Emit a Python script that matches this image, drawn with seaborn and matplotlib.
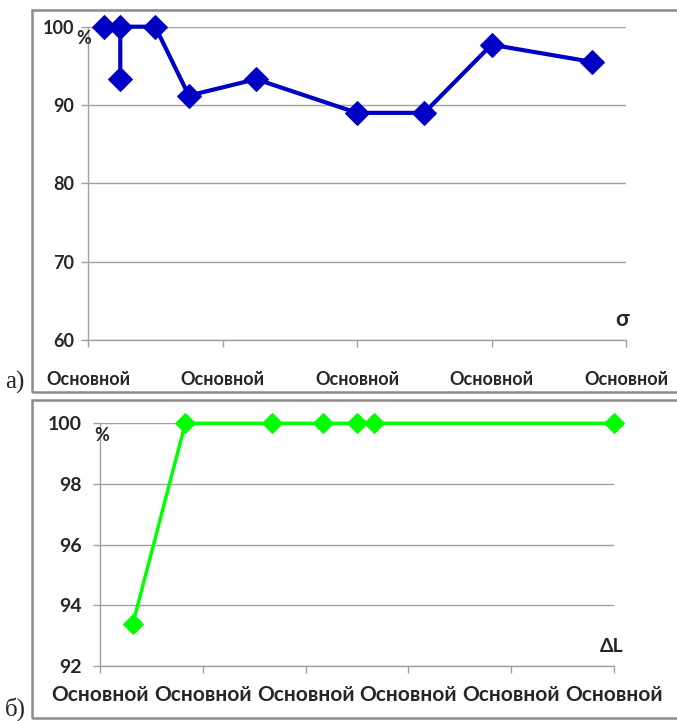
import matplotlib
matplotlib.use("Agg")
import matplotlib.pyplot as plt
import seaborn as sns
from matplotlib.patches import Rectangle

# panel a) - sigma
sigma_x = [0.24, 0.24, 0.12, 0.5, 0.75, 1.25, 2.0, 2.5, 3.0, 3.75]
sigma_y = [93.3, 100, 100, 100, 91.2, 93.3, 89.0, 89.0, 97.7, 95.5]
sigma_ticks = [0, 1, 2, 3, 4]
sigma_yticks = [60, 70, 80, 90, 100]

# panel б) - delta L
dl_x = [0.32, 0.83, 1.67, 2.17, 2.5, 2.67, 5.0]
dl_y = [93.4, 100, 100, 100, 100, 100, 100]
dl_ticks = [0, 1, 2, 3, 4, 5]
dl_yticks = [92, 94, 96, 98, 100]

tick_label = "Основной"

sns.set_style("white")
plt.rcParams["font.family"] = ["Lato", "DejaVu Sans"]

W, H = 677, 721
fig = plt.figure(figsize=(W / 100, H / 100), dpi=100)

def fx(px):
    return px / W

def fy(py):
    return 1 - py / H

# outer frames
for top, bottom in [(10, 392), (400, 718)]:
    fig.patches.append(Rectangle((fx(32), fy(bottom)), fx(700) - fx(32), fy(top) - fy(bottom),
                                 transform=fig.transFigure, fill=False,
                                 edgecolor="#8c8c8c", linewidth=1.8))

grid_c = "#a0a0a0"

def style_axes(ax, xticks, yticks, xlim, ylim, label_pad, xfs, yfs, ypad):
    ax.set_xlim(*xlim)
    ax.set_ylim(*ylim)
    ax.set_xticks(xticks)
    ax.set_xticklabels([tick_label] * len(xticks), fontweight="bold", fontsize=xfs)
    ax.set_yticks(yticks)
    ax.set_yticklabels([str(v) for v in yticks], fontweight="bold", fontsize=yfs)
    ax.yaxis.grid(True, color=grid_c, linewidth=1)
    ax.xaxis.grid(False)
    for s in ["top", "right"]:
        ax.spines[s].set_visible(False)
    for s in ["left", "bottom"]:
        ax.spines[s].set_color(grid_c)
        ax.spines[s].set_linewidth(1)
    ax.tick_params(axis="x", direction="out", length=5, color=grid_c, width=1, pad=label_pad, bottom=True)
    ax.tick_params(axis="y", direction="out", length=5, color=grid_c, width=1, pad=ypad, left=True)
    ax.set_xlabel("")
    ax.set_ylabel("")

# top axes
ax1 = fig.add_axes([fx(88), fy(340), fx(626) - fx(88), fy(26.7) - fy(340)])
sns.lineplot(x=sigma_x, y=sigma_y, sort=False, estimator=None, ax=ax1,
             color="#0000c4", linewidth=3, marker="D", markersize=12,
             markeredgecolor="#0000c4", clip_on=False)
style_axes(ax1, sigma_ticks, sigma_yticks, (0, 4), (60, 100), 17, 13, 13, 5)
ax1.text(fx(84), fy(38), "%", transform=fig.transFigure, fontsize=13,
         fontweight="bold", ha="center", va="center")
ax1.text(fx(622), fy(320), "σ", transform=fig.transFigure, fontsize=16,
         fontweight="bold", ha="center", va="center")

# bottom axes
ax2 = fig.add_axes([fx(100), fy(666), fx(614) - fx(100), fy(423.3) - fy(666)])
sns.lineplot(x=dl_x, y=dl_y, sort=False, estimator=None, ax=ax2,
             color="#00ff00", linewidth=2.5, marker="D", markersize=10,
             markeredgecolor="#00ff00", clip_on=False)
style_axes(ax2, dl_ticks, dl_yticks, (0, 5), (92, 100), 9, 15, 14, 8)
ax2.text(fx(102), fy(436), "%", transform=fig.transFigure, fontsize=13,
         fontweight="bold", ha="center", va="center")
ax2.text(fx(612), fy(647), "ΔL", transform=fig.transFigure, fontsize=14,
         fontweight="bold", ha="center", va="center")

# panel letters
fig.text(fx(15), fy(382), "а)", fontsize=18, family="Liberation Serif", ha="center", va="center")
fig.text(fx(15), fy(709), "б)", fontsize=18, family="Liberation Serif", ha="center", va="center")

fig.savefig("out.png", dpi=100)
